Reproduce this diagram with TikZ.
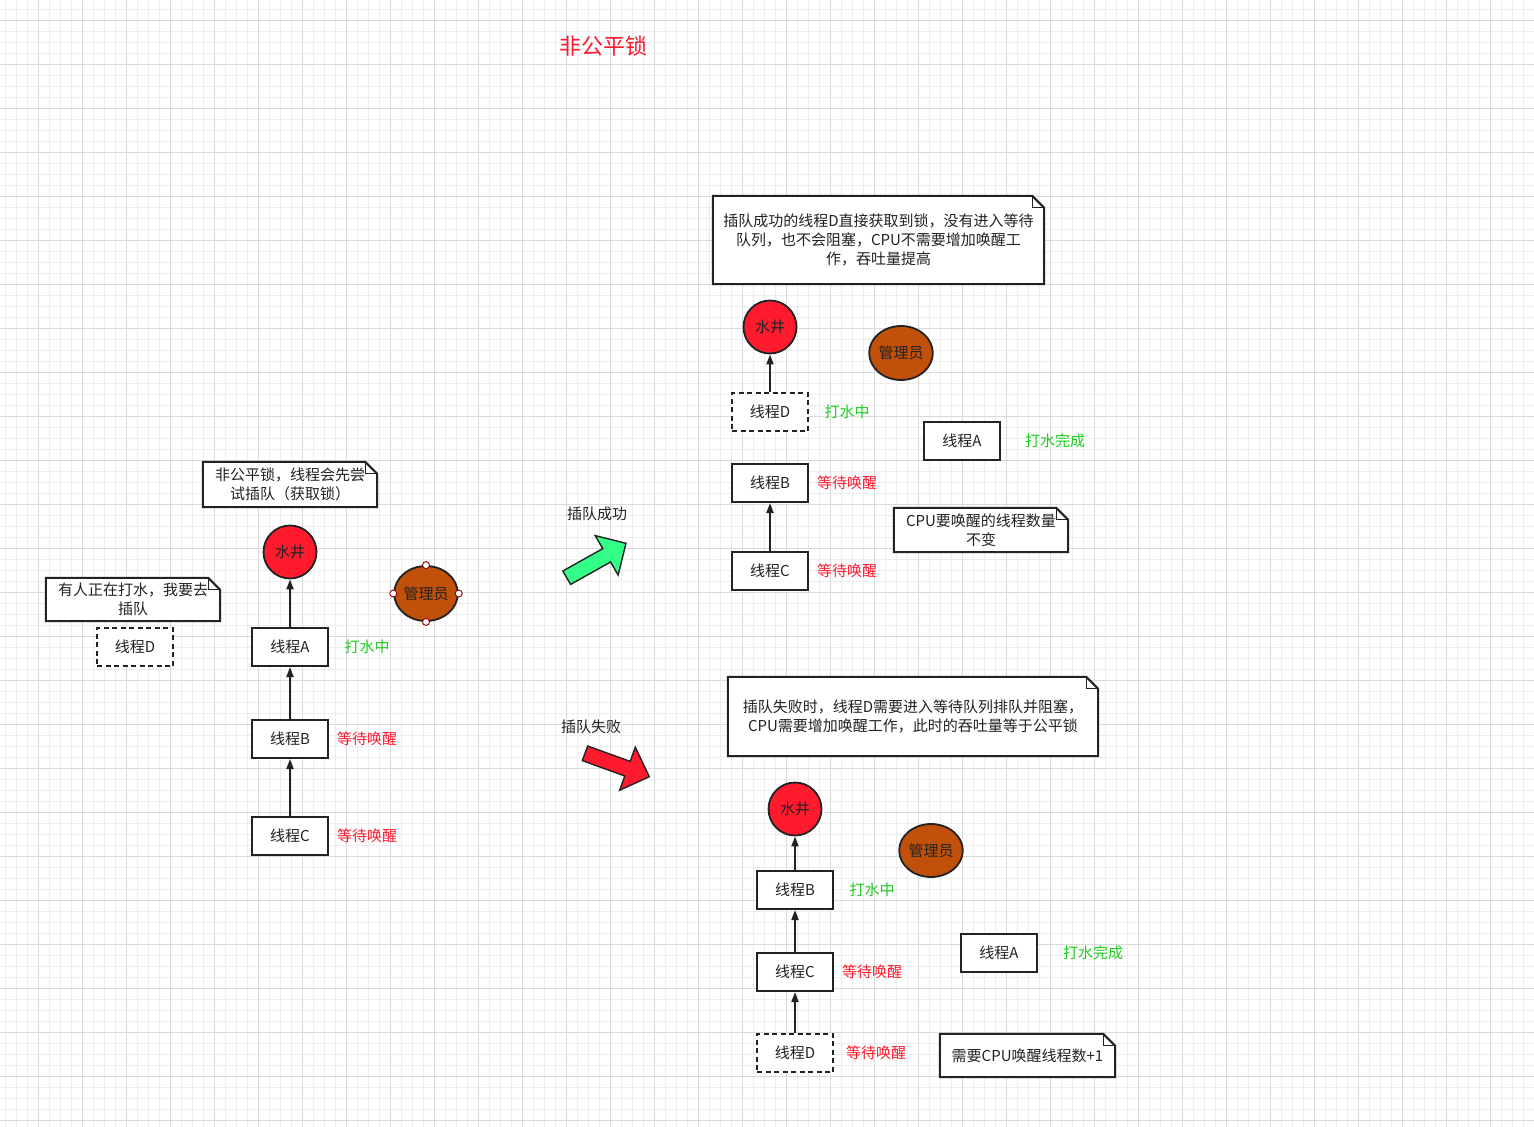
\documentclass[tikz,border=0pt]{standalone}
\usepackage{fontspec}
\setmainfont{Noto Sans CJK SC}
\usetikzlibrary{arrows.meta,shapes.geometric}
\definecolor{inkgray}{HTML}{222222}
\definecolor{wellred}{HTML}{FF1A2E}
\definecolor{keeperbrown}{HTML}{C1500A}
\definecolor{okgreen}{HTML}{1FCC1F}
\definecolor{waitred}{HTML}{FF1A2E}
\definecolor{arrowgreen}{HTML}{33FF88}
\definecolor{gridminor}{HTML}{EDEDED}
\definecolor{gridmajor}{HTML}{DADADA}
\pgfdeclarelayer{grid}
\pgfdeclarelayer{paper}
\pgfsetlayers{grid,paper,main}

\tikzset{every picture/.style={line width=1.9pt, x=1pt, y=-1pt, font=\fontsize{15}{19}\selectfont}}
\tikzset{thread node/.style={rectangle, draw=inkgray, line width=2pt, fill=white, text=inkgray, minimum width=76pt, minimum height=38pt, inner sep=0pt}}
\tikzset{cut in node/.style={thread node, dash pattern=on 5pt off 3.5pt}}
\tikzset{well node/.style={circle, draw=inkgray, line width=1.8pt, fill=wellred, text=inkgray, minimum size=53pt, inner sep=0pt}}
\tikzset{keeper node/.style={ellipse, draw=inkgray, line width=1.8pt, fill=keeperbrown, text=inkgray, minimum width=60pt, minimum height=55pt, inner sep=0pt}}
\tikzset{handle/.style={circle, draw=red!55!black, fill=white, minimum size=7pt, inner sep=0pt, line width=0.9pt}}
\tikzset{note node/.style={rectangle, text=inkgray, align=center, inner sep=0pt}}
\tikzset{queue arrow/.style={draw=inkgray, line width=1.9pt, -{Triangle[length=10pt,width=7pt]}}}
\tikzset{pumping/.style={text=okgreen}}
\tikzset{waiting/.style={text=waitred}}
\tikzset{big arrow/.style={draw=inkgray, line width=1.4pt, line join=miter}}
\newcommand{\dogear}[1]{%
  \begin{pgfonlayer}{paper}
    \fill[white] (#1.north west) -- ([xshift=-12pt]#1.north east) -- ([yshift=-12pt]#1.north east) -- (#1.south east) -- (#1.south west) -- cycle;
  \end{pgfonlayer}
  \draw[draw=inkgray, line width=2pt, line join=miter] (#1.north west) -- ([xshift=-12pt]#1.north east) -- ([yshift=-12pt]#1.north east) -- (#1.south east) -- (#1.south west) -- cycle;
  \draw[draw=inkgray, line width=1pt] ([xshift=-12pt]#1.north east) |- ([yshift=-12pt]#1.north east);}

\begin{document}
\begin{tikzpicture}
    \useasboundingbox (0,0) rectangle (1534,1127);
    \begin{pgfonlayer}{grid}
        \fill[white] (0,0) rectangle (1534,1127);
        \foreach \x in {5,16,...,1534} \draw[gridminor, line width=1pt] (\x,0) -- (\x,1127);
        \foreach \y in {9,20,...,1127} \draw[gridminor, line width=1pt] (0,\y) -- (1534,\y);
        \foreach \x in {38,82,...,1534} \draw[gridmajor, line width=1pt] (\x,0) -- (\x,1127);
        \foreach \y in {20,64,...,1127} \draw[gridmajor, line width=1pt] (0,\y) -- (1534,\y);
    \end{pgfonlayer}

    \node[text=waitred, font=\fontsize{22}{26}\selectfont] (title) at (603,46) {非公平锁};

    % left: thread D wants to cut in
    \node[note node, minimum width=174pt, minimum height=45pt] (tryNote) at (290,484.5) {非公平锁，线程会先尝\\试插队（获取锁）};
    \dogear{tryNote}
    \node[note node, minimum width=174pt, minimum height=43pt] (cutNote) at (133,599.5) {有人正在打水，我要去\\插队};
    \dogear{cutNote}
    \node[well node] (wellL) at (290,552) {水井};
    \node[keeper node] (keeperL) at (426,593.5) {管理员};
    \foreach \a in {north,south,east,west} \node[handle] (keeperL-\a) at (keeperL.\a) {};
    \node[cut in node] (dL) at (135,647) {线程D};
    \node[thread node] (aL) at (290,647) {线程A};
    \node[thread node] (bL) at (290,739) {线程B};
    \node[thread node] (cL) at (290,836) {线程C};
    \node[pumping] (aLstate) at (367,647) {打水中};
    \node[waiting] (bLstate) at (367,739) {等待唤醒};
    \node[waiting] (cLstate) at (367,836) {等待唤醒};
    \draw[queue arrow] (aL) -- (wellL);
    \draw[queue arrow] (bL) -- (aL);
    \draw[queue arrow] (cL) -- (bL);

    % middle: the two outcomes
    \node[text=inkgray] (okText) at (597,514) {插队成功};
    \filldraw[big arrow, fill=arrowgreen] (562.8,571.0) -- (602.8,548.6) -- (595.2,535.6) -- (626,543.3) -- (618.1,575.0) -- (610.6,562.0) -- (570.6,584.4) -- cycle;
    \node[text=inkgray] (failText) at (591,727) {插队失败};
    \filldraw[big arrow, fill=wellred] (587.7,746.0) -- (630.2,761.4) -- (635.3,747.2) -- (649.3,776.7) -- (619.7,790.2) -- (624.8,776.0) -- (582.3,760.6) -- cycle;

    % top right: cutting in succeeded
    \node[note node, minimum width=331pt, minimum height=88pt] (okNote) at (878.5,240) {插队成功的线程D直接获取到锁，没有进入等待\\队列，也不会阻塞，CPU不需要增加唤醒工\\作，吞吐量提高};
    \dogear{okNote}
    \node[well node] (wellT) at (770,327) {水井};
    \node[keeper node, minimum height=54pt] (keeperT) at (901,353) {管理员};
    \node[cut in node] (dT) at (770,412) {线程D};
    \node[thread node] (aT) at (962,441) {线程A};
    \node[thread node] (bT) at (770,483) {线程B};
    \node[thread node] (cT) at (770,571) {线程C};
    \node[pumping] (dTstate) at (847,412) {打水中};
    \node[pumping] (aTstate) at (1055,441) {打水完成};
    \node[waiting] (bTstate) at (847,483) {等待唤醒};
    \node[waiting] (cTstate) at (847,571) {等待唤醒};
    \node[note node, minimum width=174pt, minimum height=44pt] (sameNote) at (981,530) {CPU要唤醒的线程数量\\不变};
    \dogear{sameNote}
    \draw[queue arrow] (dT) -- (wellT);
    \draw[queue arrow] (cT) -- (bT);

    % bottom right: cutting in failed
    \node[note node, minimum width=370pt, minimum height=79pt] (failNote) at (913,716.5) {插队失败时，线程D需要进入等待队列排队并阻塞，\\CPU需要增加唤醒工作，此时的吞吐量等于公平锁};
    \dogear{failNote}
    \node[well node] (wellB) at (795,809) {水井};
    \node[keeper node, minimum height=53pt] (keeperB) at (931,850.5) {管理员};
    \node[thread node] (bB) at (795,890) {线程B};
    \node[thread node] (cB) at (795,972) {线程C};
    \node[cut in node] (dB) at (795,1053) {线程D};
    \node[thread node] (aB) at (999,953) {线程A};
    \node[pumping] (bBstate) at (872,890) {打水中};
    \node[waiting] (cBstate) at (872,972) {等待唤醒};
    \node[waiting] (dBstate) at (876,1053) {等待唤醒};
    \node[pumping] (aBstate) at (1093,953) {打水完成};
    \node[note node, minimum width=175pt, minimum height=43pt] (plusNote) at (1027.5,1055.5) {需要CPU唤醒线程数+1};
    \dogear{plusNote}
    \draw[queue arrow] (bB) -- (wellB);
    \draw[queue arrow] (cB) -- (bB);
    \draw[queue arrow] (dB) -- (cB);
\end{tikzpicture}
\end{document}
